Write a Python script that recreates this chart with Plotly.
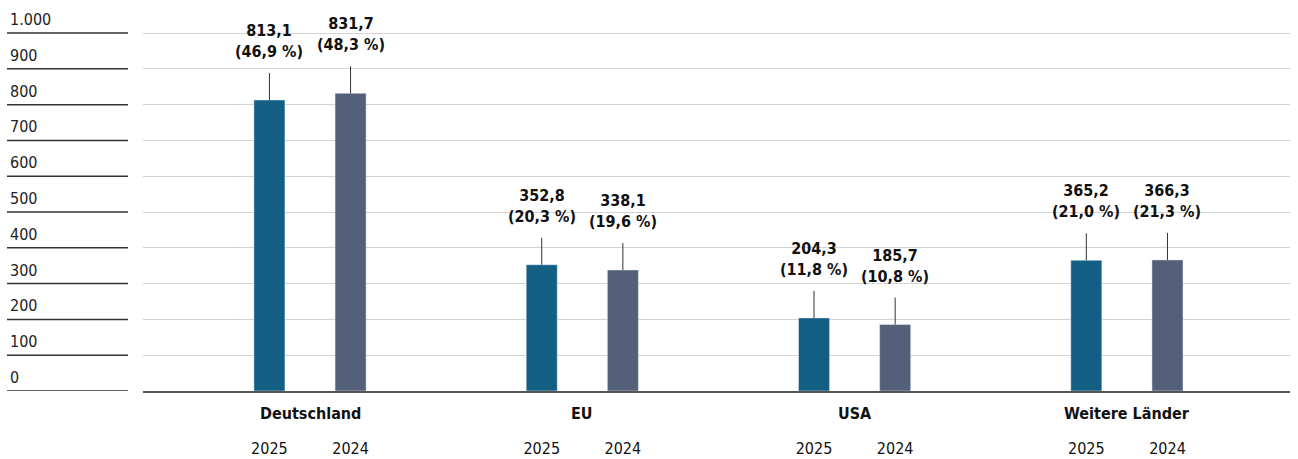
import plotly.graph_objects as go

categories = ["Deutschland", "EU", "USA", "Weitere Länder"]
years = ["2025", "2024"]
values_2025 = [813.1, 352.8, 204.3, 365.2]
values_2024 = [831.7, 338.1, 185.7, 366.3]
share_2025 = ["46,9", "20,3", "11,8", "21,0"]
share_2024 = ["48,3", "19,6", "10,8", "21,3"]
y_ticks = [0, 100, 200, 300, 400, 500, 600, 700, 800, 900, 1000]
y_tick_labels = ["0", "100", "200", "300", "400", "500", "600", "700", "800", "900", "1.000"]

FONT = "DejaVu Sans Condensed, DejaVu Sans, sans-serif"
C2025 = "#135f84"
C2024 = "#545f79"
OFF = 0.149
W = 0.114

grp = list(range(len(categories)))
x25 = [g - OFF for g in grp]
x24 = [g + OFF for g in grp]

fig = go.Figure()
fig.add_bar(x=x25, y=values_2025, width=W, marker_color=C2025, name="2025")
fig.add_bar(x=x24, y=values_2024, width=W, marker_color=C2024, name="2024")

ann = []
for xs, vals, shares in [(x25, values_2025, share_2025), (x24, values_2024, share_2024)]:
    for x, v, s in zip(xs, vals, shares):
        ann.append(dict(
            x=x, y=v, xref="x", yref="y",
            text=f"<b>{str(v).replace('.', ',')}<br>({s} %)</b>",
            showarrow=True, arrowhead=0, arrowwidth=1, arrowcolor="#333",
            ax=0, ay=-37, yanchor="bottom", startstandoff=10, standoff=0,
            font=dict(family=FONT, size=16, color="#111"), align="center",
        ))
for g, c in zip(grp, categories):
    ann.append(dict(x=g, y=0, xref="x", yref="paper", yanchor="top", yshift=-11,
                    text=f"<b>{c}</b>", showarrow=False,
                    font=dict(family=FONT, size=16, color="#111")))

LX0 = (7 - 143) / 1147
LX1 = (128 - 143) / 1147
shapes = []
for t, lab in zip(y_ticks, y_tick_labels):
    ann.append(dict(x=(8 - 143) / 1147, y=t, xref="paper", yref="y",
                    xanchor="left", yanchor="bottom", yshift=2, text=lab,
                    showarrow=False, font=dict(family=FONT, size=16, color="#222")))
    shapes.append(dict(type="line", xref="paper", yref="y", x0=LX0, x1=LX1, y0=t, y1=t,
                       line=dict(color="#333", width=1.5)))

fig.update_layout(
    width=1298, height=459,
    margin=dict(l=143, r=8, t=32, b=68, autoexpand=False),
    paper_bgcolor="white", plot_bgcolor="white",
    showlegend=False,
    annotations=ann, shapes=shapes,
    font=dict(family=FONT, size=16, color="#111"),
)
fig.update_xaxes(
    range=[(143 - 310) / 272.3, (1290 - 310) / 272.3],
    tickvals=x25 + x24, ticktext=[years[0]] * 4 + [years[1]] * 4,
    ticks="", showgrid=False, zeroline=False, automargin=False,
    showline=True, linecolor="#555", linewidth=1.5,
    ticklabelstandoff=42, tickfont=dict(family=FONT, size=16, color="#111"),
)
fig.update_yaxes(
    range=[0, 1003], tickvals=y_ticks, showticklabels=False, automargin=False,
    showgrid=True, gridcolor="#d3d3d3", gridwidth=1, zeroline=False,
)

post = (
    "document.documentElement.style.margin='0';"
    "document.documentElement.style.overflow='hidden';"
    "document.body.style.margin='0';"
    "document.body.style.overflow='hidden';"
)

fig.write_html("out.html", config={"displayModeBar": False}, post_script=post)
